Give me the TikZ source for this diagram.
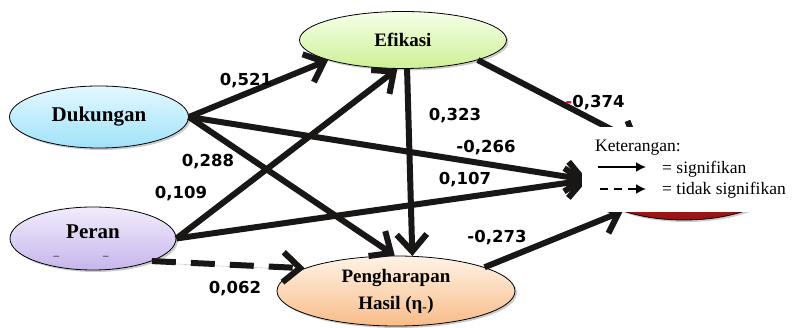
\documentclass[tikz,border=0pt]{standalone}
\usepackage{fontspec}
\setmainfont{Liberation Serif}
\newfontfamily\labfont{DejaVu Sans}
\usetikzlibrary{arrows.meta,shapes.geometric,shadows}
\definecolor{efiTop}{RGB}{246,255,232}
\definecolor{efiBot}{RGB}{205,240,150}
\definecolor{dukTop}{RGB}{228,248,255}
\definecolor{dukBot}{RGB}{160,226,250}
\definecolor{perTop}{RGB}{242,236,252}
\definecolor{perBot}{RGB}{198,182,235}
\definecolor{pengTop}{RGB}{255,243,230}
\definecolor{pengBot}{RGB}{248,188,136}
\definecolor{hidTop}{RGB}{200,50,45}
\definecolor{hidBot}{RGB}{150,20,20}
\definecolor{minusred}{RGB}{200,30,30}
\definecolor{edgecol}{RGB}{25,22,22}
\tikzset{
  ell/.style={ellipse, draw=black, line width=0.8pt, inner sep=0pt,
    drop shadow={shadow xshift=2pt, shadow yshift=-2pt, fill=black!40}},
  nodefont/.style={font=\bfseries\fontsize{21}{24}\selectfont},
  smallnodefont/.style={font=\bfseries\fontsize{19}{27}\selectfont, align=center},
  pathedge/.style={line width=6pt, draw=edgecol,
    -{Straight Barb[length=17pt,width=30pt,line width=6pt]},
    preaction={draw=black!28, transform canvas={shift={(1.8pt,-1.8pt)}}}},
  dashedge/.style={pathedge, dash pattern=on 24pt off 15pt},
  lab/.style={font=\labfont\bfseries\fontsize{16.5}{18}\selectfont, inner sep=0pt},
  legtext/.style={font=\fontsize{17.5}{20}\selectfont, inner sep=0pt, anchor=west},
  legarrow/.style={line width=1.8pt, -{Latex[length=10pt,width=10pt]}},
}
\begin{document}
\begin{tikzpicture}[x=1pt,y=-1pt]
\useasboundingbox (0,0) rectangle (793,328);
% nodes
\node[ell, minimum width=207pt, minimum height=57pt, top color=efiTop, bottom color=efiBot, nodefont, font=\bfseries\fontsize{19}{22}\selectfont] (efi) at (403,40) {Efikasi};
\node[ell, minimum width=179pt, minimum height=62pt, top color=dukTop, bottom color=dukBot, nodefont] (duk) at (99,117) {Dukungan};
\node[ell, minimum width=166pt, minimum height=63pt, top color=perTop, bottom color=perBot, nodefont] (per) at (93,238.5) {};
\node[nodefont, inner sep=0pt] (pertext) at (93,232) {Peran};
\node[font=\fontsize{11}{11}\selectfont, inner sep=0pt] (permarks) at (81,256) {\_\hspace{44pt}\_};
\node[ell, minimum width=238pt, minimum height=70pt, top color=pengTop, bottom color=pengBot, smallnodefont] (peng) at (396,291) {Pengharapan\\Hasil (η\textsubscript{-})};
\node[ell, minimum width=192pt, minimum height=80pt, top color=hidTop, bottom color=hidBot] (hid) at (684,180) {};
% edges
\draw[pathedge] (duk.east) -- (efi.195);
\draw[pathedge] (duk.east) -- (hid.west);
\draw[pathedge] (duk.east) -- (peng.92);
\draw[pathedge] (per.east) -- (efi.259);
\draw[pathedge] (per.east) -- (hid.west);
\draw[dashedge] (per.339) -- (peng.166);
\draw[pathedge] (efi.278) -- (peng.65);
\draw[pathedge] (efi.345) -- (hid.141);
\draw[pathedge] (peng.15) -- (hid.207);
% edge labels
\node[lab] (l521) at (246,81) {0,521};
\node[lab] (l288) at (208,162) {0,288};
\node[lab] (l109) at (181,194) {0,109};
\node[lab] (l062) at (235,289) {0,062};
\node[lab] (l323) at (455,116) {0,323};
\node[lab] (l374) at (595,103) {{\color{minusred}-}0,374};
\node[lab] (l266) at (486,148) {-0,266};
\node[lab] (l107) at (465,180) {0,107};
\node[lab] (l273) at (497,238) {-0,273};
% legend
\fill[white] (582,127) rectangle (793,212);
\node[legtext] (ket) at (595,148) {Keterangan:};
\coordinate (s1a) at (598,167);
\coordinate (s1b) at (646,167);
\draw[legarrow] (s1a) -- (s1b);
\node[legtext] (sig) at (662,169) {= signifikan};
\coordinate (s2a) at (600,189);
\coordinate (s2b) at (646,189);
\draw[legarrow, dash pattern=on 8pt off 6pt] (s2a) -- (s2b);
\node[legtext] (tsig) at (662,190) {= tidak signifikan};
\end{tikzpicture}
\end{document}
